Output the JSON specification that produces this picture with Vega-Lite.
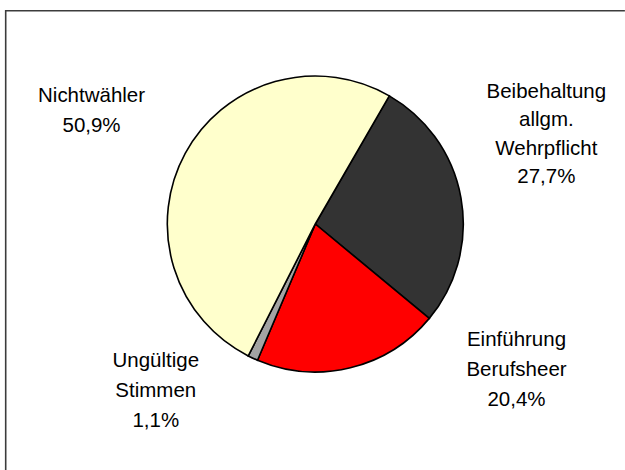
{
  "$schema": "https://vega.github.io/schema/vega-lite/v6.json",
  "width": 619.2,
  "height": 480,
  "autosize": {"type": "none"},
  "padding": {"left": 5.7, "top": 10.8, "right": 0, "bottom": 0},
  "background": "white",
  "view": {"stroke": "#3c3c3c", "strokeWidth": 1.6, "strokeDash": [619.2, 1099.2, 480]},
  "config": {
    "text": {"font": "Liberation Sans"}
  },
  "data": {
    "values": [
      {"label": "Beibehaltung allgm. Wehrpflicht", "value": 27.7, "order": 1, "text": "Beibehaltung\nallgm.\nWehrpflicht\n27,7%"},
      {"label": "Einführung Berufsheer", "value": 20.4, "order": 2, "text": "Einführung\nBerufsheer\n20,4%"},
      {"label": "Ungültige Stimmen", "value": 1.1, "order": 3, "text": "Ungültige\nStimmen\n1,1%"},
      {"label": "Nichtwähler", "value": 50.9, "order": 4, "text": "Nichtwähler\n50,9%"}
    ]
  },
  "encoding": {
    "theta": {"field": "value", "type": "quantitative", "stack": true, "scale": {"range": [0.5236, 6.8068]}},
    "order": {"field": "order", "type": "quantitative"}
  },
  "layer": [
    {
      "mark": {"type": "arc", "outerRadius": 148, "y": {"expr": "height/2 - 26.8"}, "stroke": "black", "strokeWidth": 1.6},
      "encoding": {
        "color": {
          "field": "label", "type": "nominal", "legend": null,
          "scale": {
            "domain": ["Beibehaltung allgm. Wehrpflicht", "Einführung Berufsheer", "Ungültige Stimmen", "Nichtwähler"],
            "range": ["#333333", "#ff0000", "#a3a3a3", "#ffffcc"]
          }
        }
      }
    },
    {
      "mark": {"type": "text", "radius": 250, "dx": -15, "dy": -114.8, "fontSize": 20.5, "lineHeight": 28.5, "lineBreak": "\n", "align": "center", "baseline": "middle", "color": "black"},
      "encoding": {"text": {"condition": {"test": "datum.order === 1", "field": "text"}, "value": ""}}
    },
    {
      "mark": {"type": "text", "radius": 250, "dx": 142, "dy": -154, "fontSize": 20.5, "lineHeight": 30, "lineBreak": "\n", "align": "center", "baseline": "middle", "color": "black"},
      "encoding": {"text": {"condition": {"test": "datum.order === 2", "field": "text"}, "value": ""}}
    },
    {
      "mark": {"type": "text", "radius": 250, "dx": -54, "dy": -116.8, "fontSize": 20.5, "lineHeight": 30, "lineBreak": "\n", "align": "center", "baseline": "middle", "color": "black"},
      "encoding": {"text": {"condition": {"test": "datum.order === 3", "field": "text"}, "value": ""}}
    },
    {
      "mark": {"type": "text", "radius": 250, "dx": -4, "dy": -35.8, "fontSize": 20.5, "lineHeight": 30, "lineBreak": "\n", "align": "center", "baseline": "middle", "color": "black"},
      "encoding": {"text": {"condition": {"test": "datum.order === 4", "field": "text"}, "value": ""}}
    }
  ]
}
